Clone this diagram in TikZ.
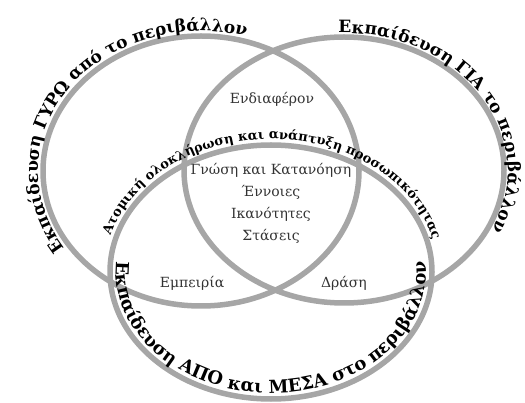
\documentclass[tikz,border=0pt]{standalone}
\usepackage{fontspec}
\setmainfont{DejaVu Serif}
\usetikzlibrary{decorations.text}
\definecolor{ringc}{HTML}{A6A6A6}
\definecolor{innerc}{HTML}{333333}
\newcommand\ttlfont{\bfseries\fontsize{17}{17}\selectfont}
\newcommand\botfont{\bfseries\fontsize{18}{18}\selectfont}
\newcommand\midfont{\bfseries\fontsize{13}{13}\selectfont}
\begin{document}
\begin{tikzpicture}[x=1pt,y=1pt,
  ring/.style={draw=ringc, line width=5.5pt},
  inlabel/.style={text=innerc, font=\fontsize{14}{16}\selectfont, inner sep=0pt}]
\useasboundingbox (0,0) rectangle (525,-403);
\coordinate (L) at (201,-171);
\coordinate (R) at (344,-170);
\coordinate (B) at (271,-272);
\draw[ring] (L) ellipse [x radius=158pt, y radius=135pt];
\draw[ring] (R) ellipse [x radius=160pt, y radius=133pt];
\draw[ring] (B) ellipse [x radius=161pt, y radius=127pt];
% curved titles
\path[decorate, decoration={text along path, text align=center,
  text={|\ttlfont|Εκπαίδευση ΓΥΡΩ από το περιβάλλον}}]
  ([shift={(L)}]244:163pt and 140pt) arc[start angle=244, end angle=44, x radius=163pt, y radius=140pt];
\path[decorate, decoration={text along path, text align=center,
  text={|\ttlfont|Εκπαίδευση ΓΙΑ το περιβάλλον}}]
  ([shift={(R)}]132:164pt and 137pt) arc[start angle=132, end angle=-68, x radius=164pt, y radius=137pt];
\path[decorate, decoration={text along path, text align=center,
  text={|\botfont|Εκπαίδευση ΑΠΟ και ΜΕΣΑ στο περιβάλλον}}]
  ([shift={(B)}]170:155pt and 121pt) arc[start angle=170, end angle=370, x radius=155pt, y radius=121pt];
\path[decorate, decoration={text along path, text align=center,
  text={|\midfont|Ατομική ολοκλήρωση και ανάπτυξη προσωπικότητας}}]
  ([shift={(B)}]189:167pt and 133pt) arc[start angle=189, end angle=-11, x radius=167pt, y radius=133pt];
% inner labels
\node[inlabel] (interest) at (272,-99) {Ενδιαφέρον};
\node[inlabel] (knowledge) at (271,-170) {Γνώση και Κατανόηση};
\node[inlabel] (concepts) at (271,-192) {Έννοιες};
\node[inlabel] (skills) at (271,-214) {Ικανότητες};
\node[inlabel] (attitudes) at (271,-236) {Στάσεις};
\node[inlabel] (exp) at (192,-283) {Εμπειρία};
\node[inlabel] (action) at (344,-283) {Δράση};
\end{tikzpicture}
\end{document}
